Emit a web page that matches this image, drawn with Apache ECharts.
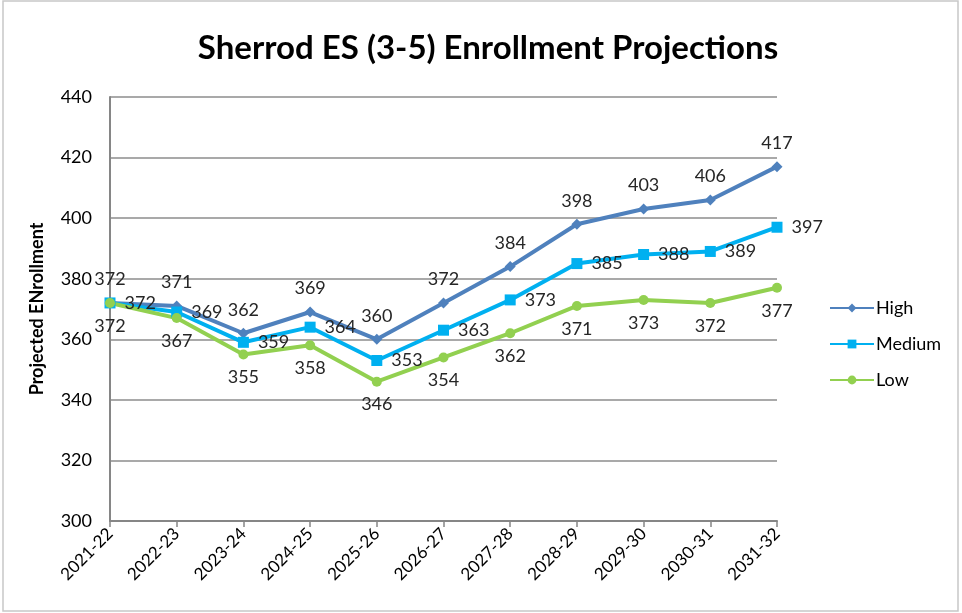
<!DOCTYPE html>
<html>
<head>
<meta charset="utf-8">
<script src="https://cdn.jsdelivr.net/npm/echarts@6/dist/echarts.min.js"></script>
<style>
  html, body { margin: 0; padding: 0; background: #fff; }
  #main { width: 962px; height: 613px; }
</style>
</head>
<body>
<div id="main"></div>
<script>
// 学年
const years = ['2021-22', '2022-23', '2023-24', '2024-25', '2025-26', '2026-27',
    '2027-28', '2028-29', '2029-30', '2030-31', '2031-32'];
// 三种预测
const high = [372, 371, 362, 369, 360, 372, 384, 398, 403, 406, 417];
const medium = [372, 369, 359, 364, 353, 363, 373, 385, 388, 389, 397];
const low = [372, 367, 355, 358, 346, 354, 362, 371, 373, 372, 377];

const font = 'Lato, "Open Sans", sans-serif';

var myChart = echarts.init(document.getElementById('main'));

function lineSeries(name, data, color, symbol, size, pos) {
    return {
        name: name,
        type: 'line',
        data: data,
        symbol: symbol,
        symbolSize: size,
        lineStyle: { color: color, width: 4 },
        itemStyle: { color: color },
        label: {
            show: true,
            position: pos,
            distance: 9,
            fontFamily: font,
            fontSize: 18,
            color: '#262626'
        },
        z: 3
    };
}

var option = {
    animation: false,
    backgroundColor: '#fff',
    title: {
        text: 'Sherrod ES (3-5) Enrollment Projections',
        left: 483,
        textAlign: 'center',
        top: 27,
        textStyle: { fontFamily: font, fontSize: 33, fontWeight: 'bold', color: '#000' }
    },
    legend: {
        orient: 'vertical',
        left: 824,
        top: 294,
        itemGap: 18,
        itemWidth: 44,
        itemHeight: 11,
        textStyle: { fontFamily: font, fontSize: 18, color: '#000', padding: [0, 0, 0, -3] },
        data: ['High', 'Medium', 'Low']
    },
    grid: { left: 110, right: 185, top: 97, bottom: 92 },
    xAxis: {
        type: 'category',
        data: years,
        boundaryGap: false,
        axisLine: { lineStyle: { color: '#868686', width: 2 } },
        axisTick: { show: true, length: 6, lineStyle: { color: '#868686', width: 1.5 } },
        axisLabel: {
            rotate: 45,
            margin: 10,
            fontFamily: font,
            fontSize: 17,
            color: '#000'
        }
    },
    yAxis: {
        type: 'value',
        min: 300,
        max: 440,
        interval: 20,
        name: 'Projected ENrollment',
        nameLocation: 'middle',
        nameGap: 64,
        nameTextStyle: { fontFamily: font, fontSize: 18, fontWeight: 'bold', color: '#000' },
        axisLine: { show: true, lineStyle: { color: '#868686', width: 2 } },
        axisTick: { show: false },
        axisLabel: { fontFamily: font, fontSize: 18, color: '#000', margin: 18 },
        splitLine: { lineStyle: { color: '#8c8c8c', width: 1.5 } }
    },
    graphic: [{
        type: 'rect',
        shape: { x: 3, y: 1, width: 955, height: 610 },
        style: { fill: 'none', stroke: '#c8c8c8', lineWidth: 1.5 },
        silent: true
    }],
    series: [
        lineSeries('High', high, '#4F81BD', 'diamond', 11, 'top'),
        lineSeries('Medium', medium, '#00B0F0', 'rect', 11, 'right'),
        lineSeries('Low', low, '#92D050', 'circle', 10, 'bottom')
    ]
};

myChart.setOption(option);
</script>
</body>
</html>
